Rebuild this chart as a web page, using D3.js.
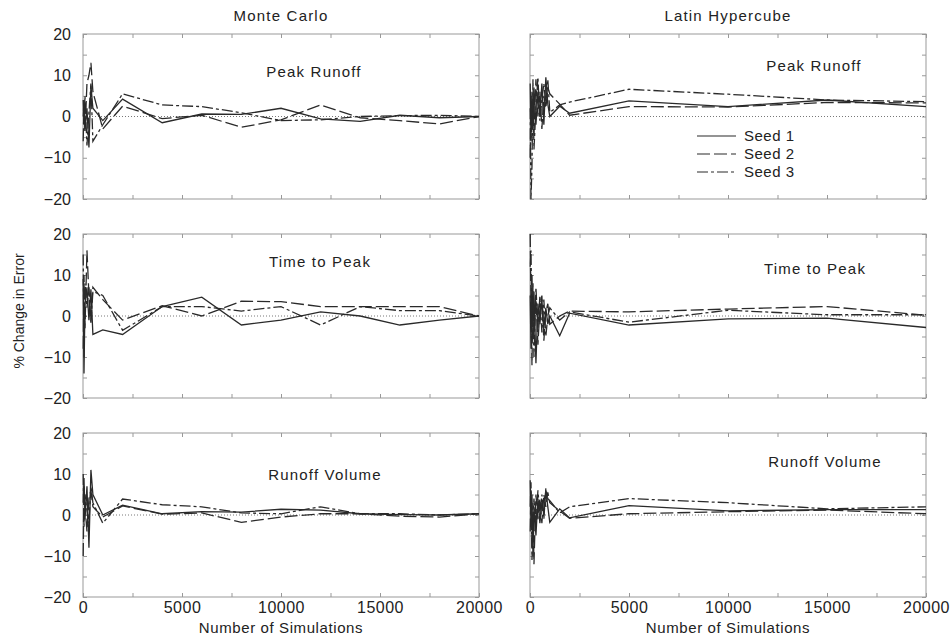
<!DOCTYPE html>
<html>
<head>
<meta charset="utf-8">
<script src="https://cdn.jsdelivr.net/npm/d3@7"></script>
<style>
  body { margin: 0; background: #fff; }
  text { font-family: "Liberation Sans", Arial, Helvetica, sans-serif; fill: #222; }
</style>
</head>
<body>
<div class="chart"></div>
<script>
// ---- data ----
const columnTitles = ['Monte Carlo', 'Latin Hypercube']
const rowTitles = ['Peak Runoff', 'Time to Peak', 'Runoff Volume']
const seedNames = ['Seed 1', 'Seed 2', 'Seed 3']
const yTicks = [-20, -10, 0, 10, 20]
const xTicks = [0, 5000, 10000, 15000, 20000]

const mcSims = [10, 50, 100, 200, 300, 400, 500, 1000, 2000, 4000, 6000, 8000, 10000, 12000, 14000, 16000, 18000, 20000]
const lhSims = [10, 50, 100, 150, 200, 300, 400, 500, 600, 700, 800, 900, 1000, 1500, 2000, 5000, 10000, 15000, 20000]

const mcPeakS1 = [0, 4, -3, 2, -7.5, 7.5, 2, -1, 4.2, -1.5, 0.6, 0.5, 2.0, -0.6, -1.2, 0.3, -0.3, 0]
const mcPeakS2 = [-6, 3, -4, 8, 10, 13, 6, -3, 2.5, -0.5, 0.3, -2.6, -0.8, 2.8, -0.3, -1.0, -1.8, 0]
const mcPeakS3 = [4, -2, 5, -7, 1, 8, -6, -2, 5.5, 2.8, 2.4, 0.9, -1.0, -0.8, 0.0, 0.2, 0.3, 0]

const mcTimeS1 = [9, -14, 3, 7, -1, 6.5, -4.5, -3.4, -4.5, 2.3, 4.6, -2.2, -1.0, 1.0, 0, -2.2, -1.0, 0]
const mcTimeS2 = [-8, 10, -3, 16, 5, -1, 7, 4, -1, 2.5, 0, 3.6, 3.5, 2.3, 2.3, 2.3, 2.3, 0]
const mcTimeS3 = [15, -10, 8, 2, 7, -2, 6, 5, -3.5, 2.3, 2.3, 1.2, 2.3, -2.2, 2.3, 1.3, 1.3, 0]

const mcVolS1 = [3, 9, -1, 7, -8, 11, 5, 0, 2.4, 0.3, 0.8, 0.7, 1.4, 1.2, 0.3, 0.1, 0, 0.3]
const mcVolS2 = [-10, 7, 2, -4, 4, 6, 2, -0.5, 2.2, 0.2, 0.5, -1.8, -0.5, 0.3, 0.3, -0.3, -0.5, 0.3]
const mcVolS3 = [10, -3, 5, 1, -2, 7, 3, -2, 3.9, 2.5, 2.0, 0.5, 0.3, 2.0, 0.3, 0.3, 0, 0.3]

const lhPeakS1 = [8, -5, 6, -3, 7, -2, 6, 0, 8, -2, 9.5, 3, 0, 2.5, 0.8, 3.8, 2.4, 4.0, 2.4]
const lhPeakS2 = [-10, 5, -6, 3, -4, 9, 0, 6, -3, 5, 2, 7, 5.5, 3, 0.3, 2.4, 2.3, 3.4, 3.3]
const lhPeakS3 = [2, -20, -12, 9, -8, 2, 9.5, -1, 4, 8, 3, 9, 1, 2.8, 3.5, 6.6, 5.4, 4.0, 3.6]

const lhTimeS1 = [5, -8, 10, -5, 6, -11.5, 3, -2, 4, -3, 2, -2, 0, -4.8, 0.7, -2.2, -0.7, -0.5, -2.8]
const lhTimeS2 = [20, 3, -12, 8, -5, 4, -7, 2, 5, -6, 1, 3, -2, 0, 1.2, 1.0, 1.7, 2.3, 0.2]
const lhTimeS3 = [12, 16, -6, 2, -10, 7, -3, 5, -4, 4, -5, 0, 2, -1, 1.0, -1.5, 1.4, 0.3, 0.3]

const lhVolS1 = [8.5, -3, 5, -10, 2, -5, 4, -2, 3, 0, 6, 2, -1.8, 1.5, -0.7, 2.3, 1.0, 1.3, 1.3]
const lhVolS2 = [-4, 6, -8, 3, -12, 5, -1, 4, -2, 5, 2, 5.5, 3, 1, -0.8, 0.3, 0.8, 1.2, 0.3]
const lhVolS3 = [2, 8, -11, -2, 4, -3, 6, 0, 5, -1, 6.5, 4, 3.5, 0.5, 2, 4, 3, 1.5, 2.0]

// ---- layout ----
const width = 951
const height = 639
const cols = [{left: 83, right: 479}, {left: 530, right: 926}]
const rows = [{top: 34, bottom: 199}, {top: 234, bottom: 398}, {top: 433, bottom: 597}]
// label spot inside each panel, [dx from left, baseline from top]
const labelSpots = [
  [[231, 43], [237, 33], [242, 47]],
  [[284, 37], [285, 40], [295, 34]]
]
const dashes = ['none', '13,4', '11,3,3,3']
const ink = '#2a2a2a'
const frame = '#999'

const panels = [
  {col: 0, row: 0, x: mcSims, seeds: [mcPeakS1, mcPeakS2, mcPeakS3]},
  {col: 0, row: 1, x: mcSims, seeds: [mcTimeS1, mcTimeS2, mcTimeS3]},
  {col: 0, row: 2, x: mcSims, seeds: [mcVolS1, mcVolS2, mcVolS3]},
  {col: 1, row: 0, x: lhSims, seeds: [lhPeakS1, lhPeakS2, lhPeakS3]},
  {col: 1, row: 1, x: lhSims, seeds: [lhTimeS1, lhTimeS2, lhTimeS3]},
  {col: 1, row: 2, x: lhSims, seeds: [lhVolS1, lhVolS2, lhVolS3]}
]

const svg = d3.select('.chart')
  .append('svg')
    .attr('width', width)
    .attr('height', height)

panels.forEach(p => {
  const c = cols[p.col]
  const r = rows[p.row]
  const xScale = d3.scaleLinear().domain([0, 20000]).range([c.left, c.right])
  const yScale = d3.scaleLinear().domain([-20, 20]).range([r.bottom, r.top])
  const g = svg.append('g')

  // inward ticks on all four sides
  const minorX = d3.range(0, 20001, 2500)
  const minorY = d3.range(-20, 21, 5)
  g.append('g')
    .attr('transform', `translate(0, ${r.bottom})`)
    .call(d3.axisBottom(xScale).tickValues(minorX).tickSize(-4).tickFormat(''))
  g.append('g')
    .attr('transform', `translate(0, ${r.top})`)
    .call(d3.axisTop(xScale).tickValues(minorX).tickSize(-4).tickFormat(''))
  g.append('g')
    .attr('transform', `translate(${c.left}, 0)`)
    .call(d3.axisLeft(yScale).tickValues(minorY).tickSize(-4).tickFormat(''))
  g.append('g')
    .attr('transform', `translate(${c.right}, 0)`)
    .call(d3.axisRight(yScale).tickValues(minorY).tickSize(-4).tickFormat(''))
  g.selectAll('.domain').remove()
  g.selectAll('.tick line').attr('stroke', frame)

  // tick labels
  if (p.col === 0) {
    const yAx = g.append('g')
      .attr('transform', `translate(${c.left}, 0)`)
      .call(d3.axisLeft(yScale).tickValues(yTicks).tickSize(0).tickPadding(12)
        .tickFormat(d => d < 0 ? '\u2212' + Math.abs(d) : d))
    yAx.select('.domain').remove()
    yAx.selectAll('text').style('font-size', '16px').attr('fill', '#222')
  }
  if (p.row === 2) {
    const xAx = g.append('g')
      .attr('transform', `translate(0, ${r.bottom})`)
      .call(d3.axisBottom(xScale).tickValues(xTicks).tickSize(0).tickPadding(5)
        .tickFormat(d3.format('d')))
    xAx.select('.domain').remove()
    xAx.selectAll('text').style('font-size', '16px').style('letter-spacing', '0.5px').attr('fill', '#222')
  }

  // frame
  g.append('rect')
    .attr('x', c.left).attr('y', r.top)
    .attr('width', c.right - c.left).attr('height', r.bottom - r.top)
    .attr('fill', 'none').attr('stroke', frame).attr('stroke-width', 1)

  // zero reference
  g.append('line')
    .attr('x1', c.left).attr('x2', c.right)
    .attr('y1', yScale(0)).attr('y2', yScale(0))
    .attr('stroke', '#555').attr('stroke-width', 0.8)
    .attr('stroke-dasharray', '1,2')

  const line = d3.line()
    .x(d => xScale(d[0]))
    .y(d => yScale(d[1]))

  p.seeds.forEach((vals, i) => {
    g.append('path')
      .datum(p.x.map((s, k) => [s, vals[k]]))
      .attr('d', line)
      .attr('fill', 'none')
      .attr('stroke', ink)
      .attr('stroke-width', 1.3)
      .attr('stroke-dasharray', dashes[i])
  })

  const spot = labelSpots[p.col][p.row]
  g.append('text')
    .attr('x', c.left + spot[0])
    .attr('y', r.top + spot[1])
    .attr('text-anchor', 'middle')
    .style('font-size', '15px')
    .style('letter-spacing', '1.2px')
    .text(rowTitles[p.row])
})

// column titles
cols.forEach((c, i) => {
  svg.append('text')
    .attr('x', (c.left + c.right) / 2)
    .attr('y', 21)
    .attr('text-anchor', 'middle')
    .style('font-size', '15px')
    .style('letter-spacing', '1.2px')
    .text(columnTitles[i])
  svg.append('text')
    .attr('x', (c.left + c.right) / 2)
    .attr('y', 633)
    .attr('text-anchor', 'middle')
    .style('font-size', '15px')
    .style('letter-spacing', '0.6px')
    .text('Number of Simulations')
})

svg.append('text')
  .attr('transform', 'translate(24, 311) rotate(-90)')
  .attr('text-anchor', 'middle')
  .style('font-size', '14px')
  .text('% Change in Error')

// legend in the top-right panel
const legend = svg.append('g')
seedNames.forEach((name, i) => {
  const y = 136 + i * 18
  legend.append('line')
    .attr('x1', 697).attr('x2', 736)
    .attr('y1', y).attr('y2', y)
    .attr('stroke', ink).attr('stroke-width', 1.2)
    .attr('stroke-dasharray', dashes[i])
  legend.append('text')
    .attr('x', 744).attr('y', y + 5)
    .style('font-size', '15px')
    .style('letter-spacing', '0.5px')
    .text(name)
})
</script>
</body>
</html>
